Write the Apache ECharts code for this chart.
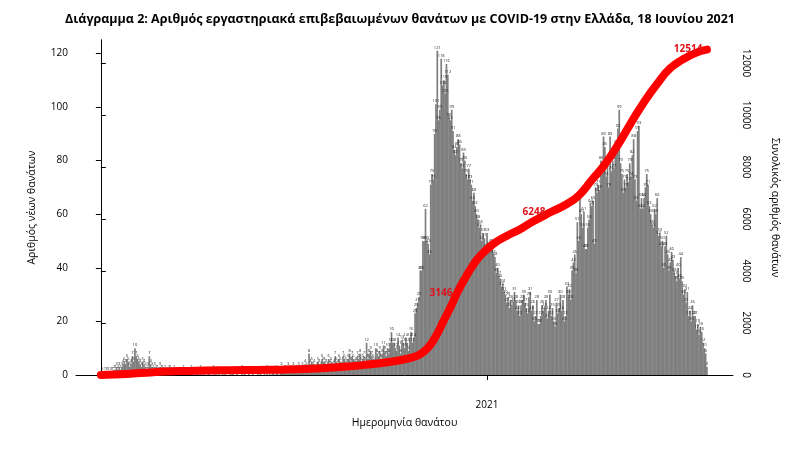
<!DOCTYPE html>
<html><head><meta charset="utf-8">
<script src="https://cdn.jsdelivr.net/npm/echarts@6/dist/echarts.min.js"></script>
<style>html,body{margin:0;background:#fff}#c{width:800px;height:454px}</style>
</head><body><div id="c"></div>
<script>
const daily = [
0,1,0,1,1,1,1,1,1,1,2,2,3,2,3,2,
3,4,5,4,6,5,3,4,7,5,10,7,6,5,4,3,5,4,3,2,3,7,4,3,2,3,2,2,1,3,2,2,1,2,1,1,2,2,1,1,2,1,1,0,1,
1,0,2,1,0,1,1,0,2,1,0,0,1,1,0,2,1,0,1,0,
0,1,1,0,0,2,0,1,0,1,0,0,1,0,1,0,0,0,1,0,
1,0,0,1,0,0,0,2,0,1,0,0,1,0,0,1,0,0,0,1,
0,1,0,0,1,0,2,0,1,0,1,1,0,2,1,0,1,3,1,2,
2,1,3,2,1,2,3,1,2,2,3,2,1,3,2,4,3,2,8,4,
5,3,4,2,3,5,4,3,6,5,5,4,3,6,4,5,3,4,7,5,
4,6,5,3,7,6,5,4,6,8,5,7,6,4,5,7,6,8,5,6,
7,5,12,6,8,9,7,6,5,10,8,7,9,6,8,11,9,7,10,8,
12,16,12,12,10,9,14,11,8,13,12,10,14,12,9,
14,16,12,14,23,25,27,29,39,39,50,50,62,50,49,45,71,75,73,90,101,121,
95,99,118,108,110,105,116,112,96,95,99,91,84,82,85,88,86,79,77,83,80,75,73,
77,73,71,65,68,63,60,58,55,56,50,53,51,47,53,48,47,49,48,45,
44,38,40,37,36,33,34,31,30,27,29,25,28,26,27,31,28,24,26,22,
26,28,30,27,25,23,29,31,24,26,20,22,28,19,19,22,26,24,25,28,21,24,30,22,25,20,18,27,23,25,30,24,28,20,22,33,30,32,28,39,
42,45,38,57,50,67,60,55,61,47,47,55,58,64,63,65,49,70,68,71,69,80,75,89,85,74,78,70,89,76,80,77,82,86,92,99,79,75,68,73,
70,75,72,79,74,82,88,73,65,91,93,62,66,62,66,70,75,71,63,60,56,55,62,60,66,52,53,48,50,40,
48,52,45,39,42,46,43,38,37,35,40,36,44,35,30,32,27,31,22,24,20,26,22,22,17,19,15,18,16,12,10,8,3
];
const cumDays = [0,20,40,60,80,100,120,140,160,180,200,220,236,244,250,256,262,268,272,278,284,290,300,310,320,330,343,355,365,375,385,395,405,415,425,435,445,455,463];
const cumVals = [1,40,110,150,170,185,195,206,240,300,380,500,650,800,1050,1500,2100,2700,3146,3700,4200,4600,5050,5350,5600,5900,6248,6550,6900,7500,8100,8850,9700,10500,11200,11800,12150,12400,12514];
const labelledTotals = [3146, 6248, 12514];
const yearTickDay = 295, yearTickLabel = '2021';
const leftTicks = [0,20,40,60,80,100,120];
const rightTicks = [0,2000,4000,6000,8000,10000,12000];

const chart = echarts.init(document.getElementById('c'));
const ax = {color:'#000', fontSize:10, fontFamily:'Open Sans'};
chart.setOption({
  animation:false,
  textStyle:{fontFamily:'Open Sans'},
  title:{text:'Διάγραμμα 2: Αριθμός εργαστηριακά επιβεβαιωμένων θανάτων με COVID-19 στην Ελλάδα, 18 Ιουνίου 2021',
    left:'center', top:8, textStyle:{fontSize:12.5, fontWeight:'bold', color:'#000', fontFamily:'Open Sans'}},
  grid:{left:76, right:67, top:40, bottom:79},
  xAxis:[{type:'value', min:-19, max:482.9, offset:17,
    name:'Ημερομηνία θανάτου', nameLocation:'middle', nameGap:26, nameTextStyle:{color:'#000',fontSize:10.5},
    axisLine:{lineStyle:{color:'#000'}}, splitLine:{show:false},
    axisTick:{customValues:[yearTickDay], lineStyle:{color:'#000'}},
    axisLabel:{customValues:[yearTickDay], formatter:()=>yearTickLabel, ...ax}},
    {type:'value', min:-19, max:482.9, show:false}],
  yAxis:[{type:'value', min:0, max:125,
    name:'Αριθμός νέων θανάτων', nameLocation:'middle', nameGap:38, nameTextStyle:{color:'#000',fontSize:10.5},
    axisLine:{show:true,lineStyle:{color:'#000'}},
    axisTick:{show:true, customValues:leftTicks, lineStyle:{color:'#000'}},
    splitLine:{show:false}, axisLabel:{...ax, customValues:leftTicks}},
   {type:'value', min:0, max:12885, position:'right',
    name:'Συνολικός αριθμός θανάτων', nameLocation:'middle', nameGap:36, nameRotate:-90, nameTextStyle:{color:'#000',fontSize:10.5},
    axisLine:{show:true,lineStyle:{color:'#000'}},
    axisTick:{show:true, customValues:rightTicks, lineStyle:{color:'#000'}},
    splitLine:{show:false}, axisLabel:{...ax, customValues:rightTicks, rotate:-90, formatter:v=>String(v)}}],
  series:[
   {type:'bar', xAxisIndex:0, yAxisIndex:0, barWidth:1.7, itemStyle:{color:'#7f7f7f'},
    data: daily.map((v,i)=>[i,v]),
    label:{show:true, position:'top', fontSize:4, color:'#222', distance:1,
      formatter:p=>p.value[1]>0?p.value[1]:''}},
   {type:'line', xAxisIndex:1, yAxisIndex:1, smooth:true, symbol:'circle', symbolSize:1,
    lineStyle:{color:'#f00', width:8, cap:'round'}, itemStyle:{color:'#f00'},
    data: cumDays.map((d,i)=>[d,cumVals[i]]),
    label:{show:true, position:'left', distance:4, color:'#e0101a', fontWeight:'bold', fontSize:10,
      formatter:p=>labelledTotals.includes(p.value[1])?p.value[1]:''},
    labelLayout:{hideOverlap:false}, z:5}
  ]
});
</script></body></html>
